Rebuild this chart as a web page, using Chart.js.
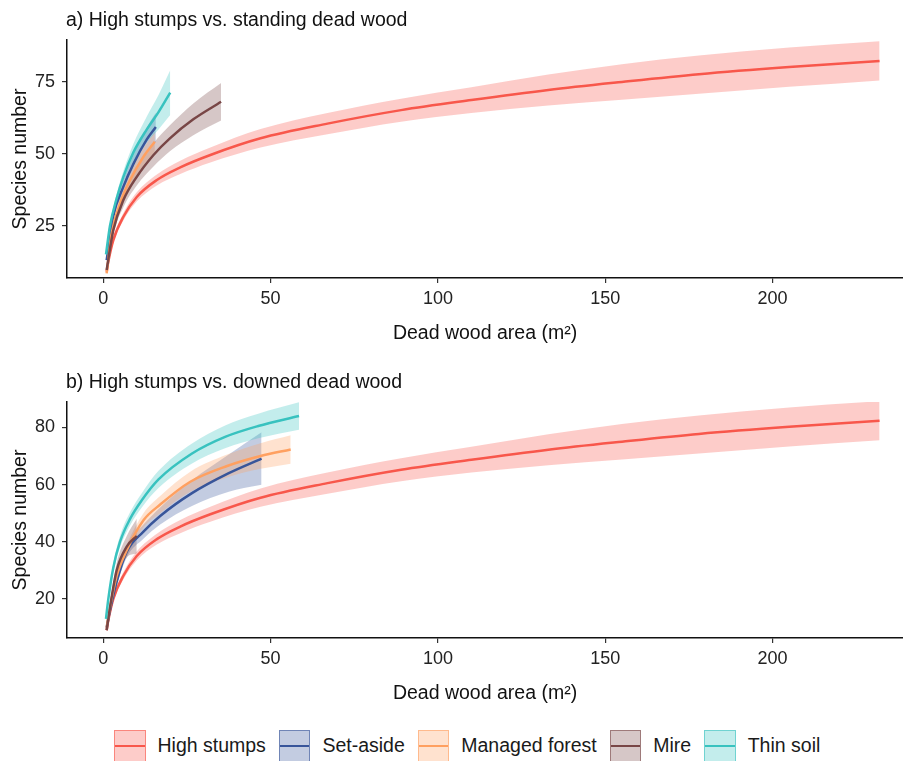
<!DOCTYPE html>
<html>
<head>
<meta charset="utf-8">
<script src="https://cdn.jsdelivr.net/npm/chart.js@4.4.1/dist/chart.umd.min.js"></script>
<style>
  body { margin: 0; background: #fff; width: 903px; height: 761px; overflow: hidden; position: relative;
         font-family: "Liberation Sans", Arial, sans-serif; }
  canvas { position: absolute; left: 0; }
  #chart-a { top: 0; }
  #chart-b { top: 360px; }
  #legend { position: absolute; top: 730px; left: 114px; display: flex; align-items: center;
            color: #1a1a1a; font-size: 19.5px; }
  .item { display: flex; align-items: center; margin-right: 13px; }
  .key { width: 29.5px; height: 29.5px; border: 1.5px solid; position: relative; margin-right: 12px; }
  .key span { position: absolute; left: 0; right: 0; top: 50%; height: 2.5px; margin-top: -1.25px; }
</style>
</head>
<body>
<canvas id="chart-a" width="903" height="360"></canvas>
<canvas id="chart-b" width="903" height="360"></canvas>
<div id="legend"></div>

<script>
// Rarefaction curves: species number vs dead wood area (m2)

const groups = ['High stumps', 'Set-aside', 'Managed forest', 'Mire', 'Thin soil'];
const xTicks = [0, 50, 100, 150, 200];
const yTicksA = [25, 50, 75];
const yTicksB = [20, 40, 60, 80];

// High stumps (same curve in both panels)
const hsArea = [1, 1.5, 3, 6, 10, 16, 23, 32, 47, 67, 89, 110, 133, 155, 178, 205, 232];
const hsMean = [9, 12.5, 20, 28.1, 35, 40.9, 45.3, 49.6, 55.4, 60.5, 65.2, 68.7, 72.2, 75.0, 77.7, 80.2, 82.3];
const hsLow  = [8.5, 11.8, 19, 26.8, 33.4, 39, 43, 47, 52.2, 56.8, 61.2, 64.2, 66.8, 68.8, 70.9, 73.3, 75.5];
const hsHigh = [9.5, 13.2, 21, 29.4, 36.6, 42.8, 47.6, 52.2, 58.6, 64.2, 69.2, 73.2, 77.6, 81.2, 84.2, 87, 89.2];

// a) standing dead wood
const saAreaA = [1, 3, 6, 9, 13, 15.7];
const saMeanA = [13, 28.5, 38.6, 46.5, 55, 59.3];
const saLowA  = [12.5, 27, 36.4, 43.5, 50.8, 54.3];
const saHighA = [13.5, 30, 40.8, 49.5, 59.2, 64.3];

const mfAreaA = [1, 2.5, 5, 8, 12, 15.4];
const mfMeanA = [8.4, 22.3, 32.8, 40.9, 49, 54.2];
const mfLowA  = [7.9, 20.8, 30.8, 38.4, 46, 50.7];
const mfHighA = [8.9, 23.8, 34.8, 43.4, 52, 57.7];

const miAreaA = [1, 3, 6, 10, 15, 19.9, 26.9, 35.2];
const miMeanA = [9.6, 23.5, 33.9, 42, 49.6, 55.4, 62, 68.1];
const miLowA  = [9.1, 22, 31.4, 39, 45.6, 50.9, 56.5, 61.6];
const miHighA = [10.1, 25, 36.4, 45, 53.6, 59.9, 67.5, 74.6];

const tsAreaA = [0.8, 2, 4, 6, 9, 13, 16.5, 20];
const tsMeanA = [15, 25, 34.5, 42, 50.5, 58.5, 64.5, 71.3];
const tsLowA  = [14.5, 24, 33, 40, 47.5, 54, 58.5, 63.5];
const tsHighA = [15.5, 26, 36, 44, 53.5, 63, 70.5, 79.1];

// b) downed dead wood
const saAreaB = [1, 2, 4, 7, 12, 17, 26.5, 37.5, 47.3];
const saMeanB = [10, 16, 26, 36.5, 43.5, 49, 57, 64, 69.1];
const saLowB  = [9.5, 15, 24.5, 34.5, 41, 46, 52.5, 57.5, 59.9];
const saHighB = [10.5, 17, 27.5, 38.5, 46, 52, 61.5, 70.5, 78.3];

const mfAreaB = [1, 2, 4, 7, 12, 17, 26, 37, 47, 56];
const mfMeanB = [10, 17, 28, 37, 47.5, 53, 61, 66.5, 70, 72.3];
const mfLowB  = [9.5, 16, 26.5, 35, 45, 50, 57.5, 62.5, 65.5, 67.3];
const mfHighB = [10.5, 18, 29.5, 39, 50, 56, 64.5, 70.5, 74.5, 77.3];

const miAreaB = [1, 2, 4, 7, 10];
const miMeanB = [9, 17, 30, 38.3, 42];
const miLowB  = [8.5, 15.5, 27.5, 34.5, 36];
const miHighB = [9.5, 18.5, 32.5, 42, 48];

const tsAreaB = [0.8, 1.5, 3, 5, 8, 11.5, 16.5, 26.4, 36.4, 46.3, 58.5];
const tsMeanB = [13, 20, 31, 40, 48, 54.5, 61.8, 70.8, 76.7, 80.5, 84];
const tsLowB  = [12.5, 19, 29.5, 38, 45.7, 52, 58.8, 67.3, 72.7, 76.2, 79.2];
const tsHighB = [13.5, 21, 32.5, 42, 50.3, 57, 64.8, 74.3, 80.7, 84.8, 88.8];

const lineColors = ['#f8574b', '#38559a', '#ffa060', '#784646', '#38c2bf'];
const bandColors = ['rgba(248,87,75,0.3)', 'rgba(56,85,154,0.3)', 'rgba(255,160,96,0.3)',
                    'rgba(120,70,70,0.3)', 'rgba(56,194,191,0.3)'];

Chart.defaults.font.family = '"Liberation Sans", Arial, sans-serif';

function pts(area, vals) {
    return area.map((x, k) => ({ x: x, y: vals[k] }));
}

function buildDatasets(panel) {
    const bands = [];
    const lines = [];
    panel.forEach((s, i) => {
        bands.push({
            data: pts(s.area, s.low), borderWidth: 0, pointRadius: 0, fill: false,
            cubicInterpolationMode: 'monotone', order: 20 + (4 - i)
        });
        bands.push({
            data: pts(s.area, s.high), borderWidth: 0, pointRadius: 0,
            fill: '-1', backgroundColor: bandColors[i],
            cubicInterpolationMode: 'monotone', order: 20 + (4 - i)
        });
        lines.push({
            label: groups[i], data: pts(s.area, s.mean), borderColor: lineColors[i],
            borderWidth: 2.5, pointRadius: 0, fill: false,
            cubicInterpolationMode: 'monotone', order: 4 - i
        });
    });
    return bands.concat(lines);
}

// draws the "a) ..." / "b) ..." heading above the panel
const panelTitle = {
    id: 'panelTitle',
    afterDraw(chart, args, opts) {
        const { ctx, chartArea } = chart;
        ctx.save();
        ctx.font = '19.5px "Liberation Sans", Arial, sans-serif';
        ctx.fillStyle = '#111';
        ctx.textBaseline = 'alphabetic';
        ctx.fillText(opts.text, chartArea.left - 1, chartArea.top - 14);
        ctx.restore();
    }
};

function panelOptions(title, yMin, yMax, yTicks, padTop) {
    const axisGrid = { drawOnChartArea: false, tickLength: 5, color: '#333', lineWidth: 1.2 };
    const axisBorder = { color: '#111', width: 1.5 };
    return {
        responsive: false,
        animation: false,
        layout: { padding: { top: padTop, left: 0, right: 0, bottom: 0 } },
        plugins: {
            legend: { display: false },
            tooltip: { enabled: false },
            panelTitle: { text: title }
        },
        scales: {
            x: {
                type: 'linear', min: -10.85, max: 239,
                afterBuildTicks: s => { s.ticks = xTicks.map(v => ({ value: v })); },
                afterFit: s => { s.height = 82; },
                grid: axisGrid, border: axisBorder,
                ticks: { font: { size: 18 }, color: '#222', padding: 5, maxRotation: 0 },
                title: { display: true, text: 'Dead wood area (m²)', font: { size: 19.5 }, color: '#111',
                         padding: { top: 0, bottom: 15 } }
            },
            y: {
                type: 'linear', min: yMin, max: yMax,
                afterBuildTicks: s => { s.ticks = yTicks.map(v => ({ value: v })); },
                afterFit: s => { s.width = 67; },
                grid: axisGrid, border: axisBorder,
                ticks: { font: { size: 18 }, color: '#222', padding: 7 },
                title: { display: true, text: 'Species number', font: { size: 19.5 }, color: '#111',
                         padding: { top: 9, bottom: 0 } }
            }
        }
    };
}

const panelA = [
    { area: hsArea, mean: hsMean, low: hsLow, high: hsHigh },
    { area: saAreaA, mean: saMeanA, low: saLowA, high: saHighA },
    { area: mfAreaA, mean: mfMeanA, low: mfLowA, high: mfHighA },
    { area: miAreaA, mean: miMeanA, low: miLowA, high: miHighA },
    { area: tsAreaA, mean: tsMeanA, low: tsLowA, high: tsHighA }
];
const panelB = [
    { area: hsArea, mean: hsMean, low: hsLow, high: hsHigh },
    { area: saAreaB, mean: saMeanB, low: saLowB, high: saHighB },
    { area: mfAreaB, mean: mfMeanB, low: mfLowB, high: mfHighB },
    { area: miAreaB, mean: miMeanB, low: miLowB, high: miHighB },
    { area: tsAreaB, mean: tsMeanB, low: tsLowB, high: tsHighB }
];

new Chart(document.getElementById('chart-a'), {
    type: 'line',
    data: { datasets: buildDatasets(panelA) },
    options: panelOptions('a) High stumps vs. standing dead wood', 6.8, 89.6, yTicksA, 40),
    plugins: [panelTitle]
});

new Chart(document.getElementById('chart-b'), {
    type: 'line',
    data: { datasets: buildDatasets(panelB) },
    options: panelOptions('b) High stumps vs. downed dead wood', 6.3, 88.9, yTicksB, 42),
    plugins: [panelTitle]
});

// legend
const legend = document.getElementById('legend');
groups.forEach((g, i) => {
    const item = document.createElement('div');
    item.className = 'item';
    item.innerHTML = `<div class="key" style="background:${bandColors[i]};border-color:${lineColors[i]}99">
        <span style="background:${lineColors[i]}"></span></div><div>${g}</div>`;
    legend.appendChild(item);
});
</script>
</body>
</html>
